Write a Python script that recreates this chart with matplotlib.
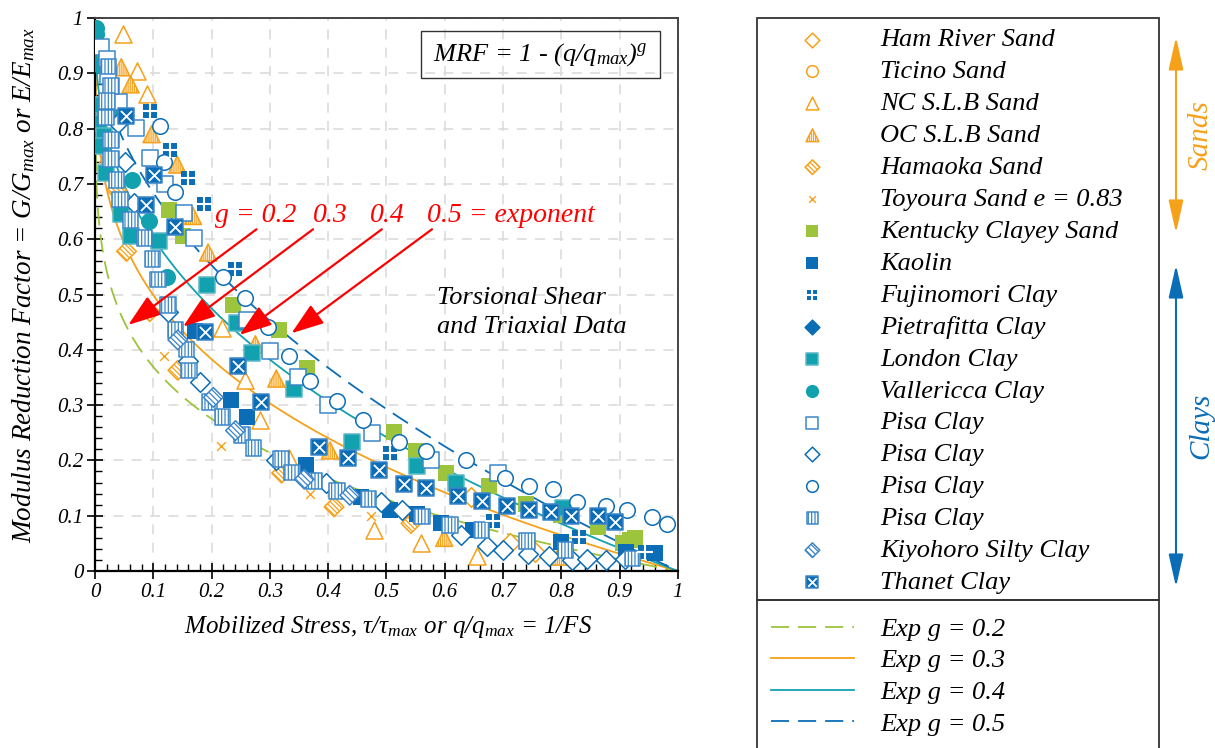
import numpy as np
import matplotlib
matplotlib.use('Agg')
import matplotlib.pyplot as plt
from matplotlib.patches import Rectangle
from matplotlib.legend_handler import HandlerTuple
from matplotlib.ticker import MultipleLocator

plt.rcParams['font.family'] = 'Liberation Serif'
plt.rcParams['font.style'] = 'italic'
plt.rcParams['mathtext.fontset'] = 'custom'
plt.rcParams['mathtext.it'] = 'Liberation Serif:italic'
plt.rcParams['mathtext.rm'] = 'Liberation Serif'
plt.rcParams['hatch.linewidth'] = 0.9

ORANGE = '#F6A11A'
GREEN = '#9CC43C'
TEAL = '#12A1AE'
BLUE = '#0B6DB6'
LBLUE = '#3C86C8'

# ---- measured points: x = mobilized stress, y = modulus reduction factor ----
ham_x = [0.645, 0.712, 0.755]
ham_y = [0.133, 0.051, 0.035]

ticino_x = []
ticino_y = []

ncslb_x = [0.048, 0.072, 0.090, 0.218, 0.257, 0.283, 0.332, 0.479, 0.560, 0.655]
ncslb_y = [0.972, 0.905, 0.863, 0.439, 0.345, 0.274, 0.204, 0.075, 0.051, 0.027]

ocslb_x = [0.045, 0.061, 0.097, 0.141, 0.168, 0.194, 0.275, 0.311, 0.403, 0.599, 0.795]
ocslb_y = [0.911, 0.880, 0.790, 0.735, 0.642, 0.576, 0.410, 0.348, 0.218, 0.060, 0.026]

hamaoka_x = [0.037, 0.054, 0.094, 0.142, 0.320, 0.410, 0.542]
hamaoka_y = [0.689, 0.578, 0.469, 0.363, 0.177, 0.116, 0.086]

toyoura_x = [0.014, 0.118, 0.216, 0.369, 0.473]
toyoura_y = [0.747, 0.388, 0.226, 0.140, 0.099]

kentucky_x = [0.127, 0.151, 0.236, 0.315, 0.363, 0.513, 0.551, 0.602, 0.675, 0.740,
              0.799, 0.862, 0.906, 0.918, 0.926]
kentucky_y = [0.653, 0.606, 0.481, 0.436, 0.367, 0.251, 0.217, 0.178, 0.154, 0.122,
              0.101, 0.080, 0.051, 0.056, 0.060]

kaolin_x = [0.172, 0.234, 0.260, 0.362, 0.457, 0.506, 0.553, 0.593, 0.649, 0.800, 0.911, 0.961]
kaolin_y = [0.434, 0.310, 0.279, 0.192, 0.134, 0.110, 0.104, 0.087, 0.074, 0.053, 0.035, 0.033]

fujinomori_x = [0.095, 0.128, 0.160, 0.187, 0.240, 0.506, 0.682, 0.830, 0.943]
fujinomori_y = [0.832, 0.762, 0.711, 0.664, 0.546, 0.214, 0.091, 0.062, 0.035]

pietrafitta_x = []
pietrafitta_y = []

london_x = [0.004, 0.007, 0.015, 0.012, 0.019, 0.045, 0.062, 0.109, 0.192, 0.244, 0.270,
            0.342, 0.440, 0.553, 0.620, 0.802]
london_y = [0.843, 0.810, 0.787, 0.768, 0.719, 0.645, 0.606, 0.597, 0.518, 0.448, 0.395,
            0.330, 0.234, 0.190, 0.160, 0.114]

vallericca_x = [0.002, 0.002, 0.004, 0.008, 0.028, 0.063, 0.092, 0.124]
vallericca_y = [0.982, 0.971, 0.927, 0.915, 0.832, 0.708, 0.633, 0.531]

pisa_sq_x = [0.011, 0.021, 0.023, 0.042, 0.070, 0.094, 0.120, 0.152, 0.169, 0.261, 0.301,
             0.348, 0.399, 0.475, 0.576, 0.691]
pisa_sq_y = [0.948, 0.926, 0.895, 0.848, 0.802, 0.747, 0.700, 0.648, 0.602, 0.454, 0.398,
             0.351, 0.300, 0.249, 0.201, 0.178]

pisa_di_x = [0.039, 0.051, 0.067, 0.126, 0.160, 0.180, 0.310, 0.397, 0.491, 0.526,
             0.628, 0.672, 0.700, 0.742, 0.779, 0.818, 0.844, 0.876, 0.909]
pisa_di_y = [0.810, 0.740, 0.666, 0.469, 0.380, 0.342, 0.201, 0.159, 0.124, 0.110,
             0.065, 0.046, 0.038, 0.031, 0.027, 0.020, 0.021, 0.020, 0.021]

pisa_ci_x = [0.111, 0.118, 0.137, 0.220, 0.258, 0.297, 0.332, 0.368, 0.415, 0.460, 0.522,
             0.568, 0.636, 0.703, 0.745, 0.786, 0.826, 0.876, 0.913, 0.955, 0.982]
pisa_ci_y = [0.804, 0.740, 0.686, 0.531, 0.493, 0.441, 0.388, 0.344, 0.308, 0.274, 0.233,
             0.217, 0.201, 0.169, 0.153, 0.148, 0.124, 0.118, 0.110, 0.098, 0.085]

pisa_ha_x = [0.023, 0.027, 0.021, 0.019, 0.027, 0.027, 0.037, 0.043, 0.061, 0.085, 0.099,
             0.108, 0.125, 0.138, 0.157, 0.161, 0.196, 0.219, 0.252, 0.272, 0.319, 0.338,
             0.376, 0.415, 0.469, 0.561, 0.609, 0.663, 0.741, 0.807, 0.922]
pisa_ha_y = [0.912, 0.877, 0.850, 0.820, 0.779, 0.745, 0.707, 0.672, 0.635, 0.602, 0.564,
             0.527, 0.481, 0.436, 0.401, 0.363, 0.306, 0.279, 0.246, 0.222, 0.203, 0.178,
             0.163, 0.145, 0.130, 0.099, 0.083, 0.074, 0.054, 0.038, 0.023]

kiyohoro_x = [0.142, 0.203, 0.241, 0.359, 0.437]
kiyohoro_y = [0.418, 0.314, 0.254, 0.166, 0.137]

thanet_x = [0.053, 0.088, 0.102, 0.137, 0.189, 0.245, 0.284, 0.384, 0.434, 0.487, 0.530,
            0.568, 0.622, 0.663, 0.707, 0.745, 0.782, 0.816, 0.862, 0.892]
thanet_y = [0.823, 0.662, 0.716, 0.623, 0.433, 0.371, 0.306, 0.225, 0.205, 0.183, 0.157,
            0.151, 0.136, 0.127, 0.118, 0.110, 0.106, 0.100, 0.099, 0.089]

# exponents of MRF = 1 - (q/qmax)^g
EXPONENTS = [0.2, 0.3, 0.4, 0.5]
EXP_COLORS = [GREEN, ORANGE, TEAL, BLUE]
EXP_DASHED = [True, False, False, True]

TICKS = [0, 0.1, 0.2, 0.3, 0.4, 0.5, 0.6, 0.7, 0.8, 0.9, 1]
TICK_LABELS = ['0', '0.1', '0.2', '0.3', '0.4', '0.5', '0.6', '0.7', '0.8', '0.9', '1']

fig = plt.figure(figsize=(12.15, 7.48), dpi=100)
ax = fig.add_axes([0.0782, 0.2366, 0.4798, 0.7393])

# model curves
xs = np.linspace(0, 1, 600)
line_handles = []
for g, c, dashed in zip(EXPONENTS, EXP_COLORS, EXP_DASHED):
    ln, = ax.plot(xs, 1 - xs ** g, color=c, lw=1.3, zorder=2,
                  label='Exp g = %.1f' % g)
    if dashed:
        ln.set_dashes((10, 5))
    line_handles.append(ln)


def sc(x, y, **kw):
    base = dict(s=125, zorder=3, linewidths=1.1)
    base.update(kw)
    return ax.scatter(x, y, **base)


h_ham = sc(ham_x, ham_y, marker='D', s=100, facecolor='white', edgecolor=ORANGE)
h_ticino = sc(ticino_x, ticino_y, marker='o', facecolor='white', edgecolor=ORANGE)
h_nc = sc(ncslb_x, ncslb_y, marker='^', s=150, facecolor='white', edgecolor=ORANGE)
with plt.rc_context({'hatch.color': ORANGE}):
    h_oc = sc(ocslb_x, ocslb_y, marker='^', s=150, facecolor='white', edgecolor=ORANGE,
              hatch='||||||||')
    h_hamaoka = sc(hamaoka_x, hamaoka_y, marker='D', s=100, facecolor='white',
                   edgecolor=ORANGE, hatch='\\\\\\\\\\\\\\')
h_toy = sc(toyoura_x, toyoura_y, marker='x', s=40, color=ORANGE, linewidths=1.0)
h_kent = sc(kentucky_x, kentucky_y, marker='s', color=GREEN, linewidths=0)
h_kaolin = sc(kaolin_x, kaolin_y, marker='s', color=BLUE, linewidths=0)
h_fuji_a = sc(fujinomori_x, fujinomori_y, marker='s', s=105, color=BLUE, linewidths=0)
h_fuji_b = sc(fujinomori_x, fujinomori_y, marker='+', s=130, color='white', linewidths=1.5,
              zorder=3.1)
h_pietra = sc(pietrafitta_x, pietrafitta_y, marker='D', s=100, color=BLUE)
h_london = sc(london_x, london_y, marker='s', facecolor=TEAL, edgecolor='#5AB8C8')
h_valle = sc(vallericca_x, vallericca_y, marker='o', facecolor=TEAL, edgecolor=TEAL)
h_pisa_sq = sc(pisa_sq_x, pisa_sq_y, marker='s', facecolor='white', edgecolor=LBLUE)
h_pisa_di = sc(pisa_di_x, pisa_di_y, marker='D', s=100, facecolor='white', edgecolor=BLUE)
h_pisa_ci = sc(pisa_ci_x, pisa_ci_y, marker='o', facecolor='white', edgecolor=BLUE)
with plt.rc_context({'hatch.color': LBLUE}):
    h_pisa_ha = sc(pisa_ha_x, pisa_ha_y, marker='s', facecolor='white', edgecolor=LBLUE,
                   hatch='|||||')
    h_kiyo = sc(kiyohoro_x, kiyohoro_y, marker='D', s=100, facecolor='white', edgecolor=LBLUE,
                hatch='\\\\\\\\\\\\')
h_than_a = sc(thanet_x, thanet_y, marker='s', facecolor=BLUE, edgecolor=LBLUE)
h_than_b = sc(thanet_x, thanet_y, marker='x', s=65, color='white', linewidths=1.3,
              zorder=3.1)

ax.set_xlim(0, 1)
ax.set_ylim(0, 1)
ax.set_xticks(TICKS)
ax.set_yticks(TICKS)
ax.set_xticklabels(TICK_LABELS)
ax.set_yticklabels(TICK_LABELS)
ax.xaxis.set_minor_locator(MultipleLocator(0.02))
ax.yaxis.set_minor_locator(MultipleLocator(0.02))
ax.tick_params(which='major', direction='inout', length=11, width=1.2, labelsize=15, pad=3)
ax.tick_params(which='minor', direction='in', length=5, width=1.0)
ax.grid(True, which='major', color='#dcdcdc', lw=1.2, dashes=(6, 5), zorder=0)
for side in ['left', 'bottom']:
    ax.spines[side].set_linewidth(1.6)
    ax.spines[side].set_color('black')
for side in ['top', 'right']:
    ax.spines[side].set_linewidth(1.4)
    ax.spines[side].set_color('#444444')

ax.set_xlabel(r'Mobilized Stress, $\tau/\tau_{max}$ or q/q$_{max}$ = 1/FS', fontsize=18)
ax.set_ylabel(r'Modulus Reduction Factor = G/G$_{max}$ or E/E$_{max}$', fontsize=19.5)
ax.xaxis.set_label_coords(0.502, -0.078)
ax.yaxis.set_label_coords(-0.1, 0.517)

# equation box
ax.add_patch(Rectangle((0.559, 0.891), 0.411, 0.086, fill=False, ec='#333333', lw=1.0,
                       zorder=4))
ax.text(0.764, 0.934, r'MRF = 1 - (q/q$_{max}$)$^{\mathrm{g}}$', fontsize=19,
        ha='center', va='center', zorder=5)

ax.text(0.587, 0.468, 'Torsional Shear\nand Triaxial Data', fontsize=19, ha='left',
        va='center', linespacing=1.4)

# exponent labels and arrows
ax.text(0.206, 0.631, 'g = 0.2', color='red', fontsize=20, va='baseline')
ax.text(0.374, 0.631, '0.3', color='red', fontsize=20, va='baseline')
ax.text(0.472, 0.631, '0.4', color='red', fontsize=20, va='baseline')
ax.text(0.570, 0.631, '0.5 = exponent', color='red', fontsize=20, va='baseline')
arrow_starts = [(0.277, 0.618), (0.374, 0.618), (0.492, 0.618), (0.578, 0.618)]
arrow_tips = [(0.057, 0.445), (0.151, 0.442), (0.248, 0.427), (0.337, 0.430)]
for s0, t0 in zip(arrow_starts, arrow_tips):
    ax.annotate('', xy=t0, xytext=s0,
                arrowprops=dict(arrowstyle='-|>,head_length=0.8,head_width=0.28',
                                color='red', lw=1.6, mutation_scale=25, shrinkA=0,
                                shrinkB=0), zorder=6)

# legend panels
W, H = 1215.0, 748.0
fig.add_artist(Rectangle((757 / W, 1 - 600 / H), 402 / W, 582 / H, fill=False,
                         ec='#333333', lw=1.3, transform=fig.transFigure))
fig.add_artist(Rectangle((757 / W, -0.05), 402 / W, (148 / H) + 0.05, fill=False,
                         ec='#333333', lw=1.3, transform=fig.transFigure, clip_on=False))

marker_handles = [h_ham, h_ticino, h_nc, h_oc, h_hamaoka, h_toy, h_kent, h_kaolin,
                  (h_fuji_a, h_fuji_b), h_pietra, h_london, h_valle, h_pisa_sq, h_pisa_di,
                  h_pisa_ci, h_pisa_ha, h_kiyo, (h_than_a, h_than_b)]
marker_labels = ['Ham River Sand', 'Ticino Sand', 'NC S.L.B Sand', 'OC S.L.B Sand',
                 'Hamaoka Sand', 'Toyoura Sand e = 0.83', 'Kentucky Clayey Sand', 'Kaolin',
                 'Fujinomori Clay', 'Pietrafitta Clay', 'London Clay', 'Vallericca Clay',
                 'Pisa Clay', 'Pisa Clay', 'Pisa Clay', 'Pisa Clay', 'Kiyohoro Silty Clay',
                 'Thanet Clay']
fig.legend(marker_handles, marker_labels, loc='center left',
           bbox_to_anchor=(771 / W, 1 - 311 / H), frameon=False, fontsize=19,
           handlelength=3.14, handletextpad=1.0, labelspacing=0.32, borderpad=0,
           borderaxespad=0, markerscale=0.75, scatterpoints=1,
           handler_map={tuple: HandlerTuple(ndivide=1, pad=0)})
fig.legend(line_handles, [h.get_label() for h in line_handles], loc='center left',
           bbox_to_anchor=(771 / W, 1 - 676.5 / H), frameon=False, fontsize=19,
           handlelength=3.14, handletextpad=1.0, labelspacing=0.31, borderpad=0,
           borderaxespad=0)

# sands / clays brackets
ax.annotate('', xy=(1176 / W, 1 - 37 / H), xytext=(1176 / W, 1 - 233 / H),
            xycoords='figure fraction', textcoords='figure fraction',
            arrowprops=dict(arrowstyle='<|-|>,head_length=0.8,head_width=0.18', color=ORANGE,
                            lw=1.5, mutation_scale=25, shrinkA=0, shrinkB=0))
ax.annotate('', xy=(1176 / W, 1 - 587 / H), xytext=(1176 / W, 1 - 265 / H),
            xycoords='figure fraction', textcoords='figure fraction',
            arrowprops=dict(arrowstyle='<|-|>,head_length=0.8,head_width=0.18', color=BLUE,
                            lw=1.5, mutation_scale=25, shrinkA=0, shrinkB=0))
fig.text(1201 / W, 1 - 135 / H, 'Sands', color=ORANGE, fontsize=21, rotation=90,
         ha='center', va='center')
fig.text(1201 / W, 1 - 426 / H, 'Clays', color=BLUE, fontsize=21, rotation=90,
         ha='center', va='center')

fig.savefig('out.png', dpi=100)
